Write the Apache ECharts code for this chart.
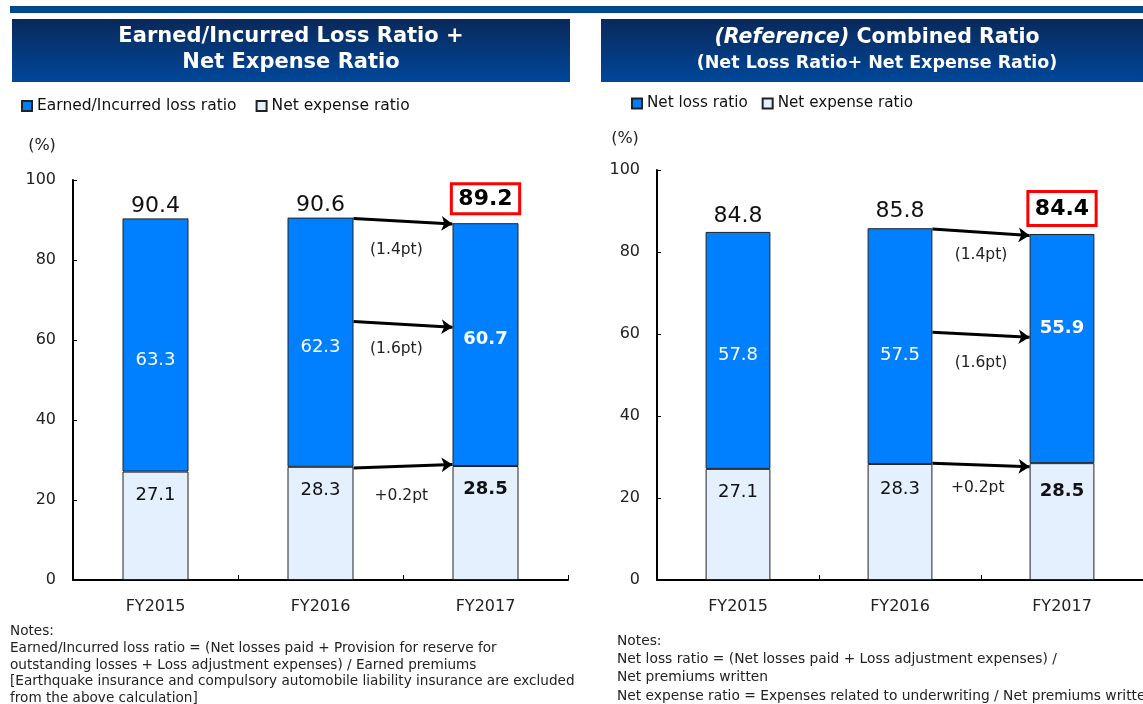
<!DOCTYPE html>
<html><head><meta charset="utf-8">
<script src="https://cdn.jsdelivr.net/npm/echarts@6/dist/echarts.min.js"></script>
<style>html,body{margin:0;padding:0;background:#fff}#c{width:1143px;height:704px}</style>
</head><body><div id="c"></div>
<script>
// ---------- data ----------
const categories = ['FY2015', 'FY2016', 'FY2017'];
const leftLossName = 'Earned/Incurred loss ratio';
const rightLossName = 'Net loss ratio';
const expenseName = 'Net expense ratio';
const leftExpense = [27.1, 28.3, 28.5];
const leftLoss = [63.3, 62.3, 60.7];
const leftTotal = [90.4, 90.6, 89.2];
const rightExpense = [27.1, 28.3, 28.5];
const rightLoss = [57.8, 57.5, 55.9];
const rightTotal = [84.8, 85.8, 84.4];
// change arrows between FY2016 and FY2017: [start value, end value]
const leftArrowValues = [[90.4, 89.0], [64.6, 63.2], [28.0, 28.9]];
const rightArrowValues = [[85.6, 84.0], [60.4, 59.2], [28.5, 27.6]];
// change labels: [text, category position, value]
const leftChangeLabels = [['(1.4pt)', 1.46, 82.5], ['(1.6pt)', 1.46, 57.8], ['+0.2pt', 1.49, 21.0]];
const rightChangeLabels = [['(1.4pt)', 1.50, 79.3], ['(1.6pt)', 1.50, 52.9], ['+0.2pt', 1.48, 22.4]];

// ---------- styles ----------
const FONT = 'DejaVu Sans';
const LOSS_COLOR = '#0080FF';
const EXP_COLOR = '#E5F0FF';
const BAR_FRAC = 0.4;
const HALF = BAR_FRAC / 2;
const highlightIndex = 2;
const leftLossOffsets = [15, 5, -5];
const rightLossOffsets = [5, 9, -20];
const leftExpDist = [15, 15, 14];
const rightExpDist = [14, 16, 19];

function lossItems(vals, offs) {
  return vals.map((v, i) => ({
    value: v,
    label: { offset: [0, offs[i]], fontWeight: i === highlightIndex ? 'bold' : 'normal' }
  }));
}
function expItems(vals, dists) {
  return vals.map((v, i) => ({
    value: v,
    label: { distance: dists[i], fontWeight: i === highlightIndex ? 'bold' : 'normal' }
  }));
}
function totalItems(vals, dist, boxDist) {
  return vals.map((v, i) => ({
    value: v,
    label: i === highlightIndex
      ? { formatter: '{box|' + v.toFixed(1) + '}', distance: boxDist }
      : { formatter: v.toFixed(1), distance: dist }
  }));
}
function arrowItems(vals) {
  return vals.map(a => ({ coords: [[1 + HALF, a[0]], [2 - HALF, a[1]]] }));
}
function changeItems(list) {
  return list.map(c => ({ name: c[0], value: [c[1], c[2]] }));
}

function catAxis(grid) {
  return {
    type: 'category', gridIndex: grid, data: categories,
    axisLine: { onZero: false, lineStyle: { color: '#000', width: 2 } },
    axisTick: { show: true, inside: true, length: 5, lineStyle: { color: '#000', width: 1 } },
    axisLabel: { fontFamily: FONT, fontSize: 16, color: '#222', margin: 19 }
  };
}
function hiddenX(grid) {
  return { type: 'value', gridIndex: grid, min: -0.5, max: 2.5, show: false };
}
function valAxis(grid) {
  return {
    type: 'value', gridIndex: grid, min: 0, max: 100, interval: 20,
    axisLine: { show: true, onZero: false, lineStyle: { color: '#000', width: 2 } },
    axisTick: { show: true, inside: true, length: 4, lineStyle: { color: '#000' } },
    splitLine: { show: false },
    axisLabel: { fontFamily: FONT, fontSize: 16, color: '#222', margin: 17 }
  };
}

function panelSeries(p) {
  const base = p.grid * 2;
  return [
    {
      name: expenseName, type: 'bar', stack: 's' + p.grid, xAxisIndex: base, yAxisIndex: p.grid,
      barWidth: (BAR_FRAC * 100) + '%',
      itemStyle: { color: EXP_COLOR, borderColor: '#222', borderWidth: 1 },
      label: { show: true, position: 'insideTop', fontFamily: FONT, fontSize: 18, color: '#111' },
      data: expItems(p.exp, p.expDist)
    },
    {
      name: p.lossName, type: 'bar', stack: 's' + p.grid, xAxisIndex: base, yAxisIndex: p.grid,
      barWidth: (BAR_FRAC * 100) + '%',
      itemStyle: { color: LOSS_COLOR, borderColor: '#222', borderWidth: 1 },
      label: { show: true, position: 'inside', fontFamily: FONT, fontSize: 18, color: '#fff' },
      data: lossItems(p.loss, p.lossOff)
    },
    {
      name: 'total' + p.grid, type: 'scatter', xAxisIndex: base, yAxisIndex: p.grid,
      symbolSize: 1, itemStyle: { color: 'rgba(0,0,0,0)', opacity: 1 }, silent: true, z: 5,
      label: {
        show: true, position: 'top', fontFamily: FONT, fontSize: 22, color: '#111',
        rich: { box: { fontFamily: FONT, fontSize: 22, fontWeight: 'bold', color: '#000',
          borderColor: '#FF0000', borderWidth: 3, padding: p.boxPad } }
      },
      data: totalItems(p.total, p.totalDist, p.boxDist)
    },
    {
      name: 'arrows' + p.grid, type: 'lines', coordinateSystem: 'cartesian2d',
      xAxisIndex: base + 1, yAxisIndex: p.grid, silent: true,
      symbol: ['none', 'arrow'], symbolSize: 11,
      lineStyle: { color: '#000', width: 3, opacity: 1, curveness: 0 },
      data: arrowItems(p.arrows)
    },
    {
      name: 'changes' + p.grid, type: 'scatter', xAxisIndex: base + 1, yAxisIndex: p.grid,
      symbolSize: 1, itemStyle: { color: 'rgba(0,0,0,0)', opacity: 1 }, silent: true,
      label: { show: true, position: 'inside', formatter: '{b}', fontFamily: FONT, fontSize: 15.5, color: '#222' },
      data: changeItems(p.changes)
    }
  ];
}

const grad = { type: 'linear', x: 0, y: 0, x2: 0, y2: 1,
  colorStops: [{ offset: 0, color: '#0A295A' }, { offset: 1, color: '#00479A' }] };

const option = {
  animation: false,
  backgroundColor: '#fff',
  grid: [
    { left: 73, top: 180, width: 495, bottom: 124 },
    { left: 657, top: 170, width: 493, bottom: 124 }
  ],
  xAxis: [catAxis(0), hiddenX(0), catAxis(1), hiddenX(1)],
  yAxis: [valAxis(0), valAxis(1)],
  legend: [
    { left: 16, top: 93, itemWidth: 10, itemHeight: 10, itemGap: 19, icon: 'rect',
      textStyle: { fontFamily: FONT, fontSize: 15.5, color: '#111' },
      data: [leftLossName, expenseName] },
    { left: 626, top: 91, itemWidth: 10, itemHeight: 10, itemGap: 14, icon: 'rect',
      textStyle: { fontFamily: FONT, fontSize: 15.2, color: '#111' },
      data: [rightLossName, expenseName] }
  ],
  graphic: [
    { type: 'rect', shape: { x: 10, y: 6, width: 1140, height: 7 }, style: { fill: '#00488E' }, silent: true },
    { type: 'rect', shape: { x: 12, y: 19, width: 558, height: 63 }, style: { fill: grad }, silent: true },
    { type: 'rect', shape: { x: 601, y: 19, width: 560, height: 63 }, style: { fill: grad }, silent: true },
    { type: 'text', x: 291, y: 37, style: { text: 'Earned/Incurred Loss Ratio +', fill: '#fff',
      font: 'bold 21px "DejaVu Sans"', align: 'center', verticalAlign: 'middle' } },
    { type: 'text', x: 291, y: 63, style: { text: 'Net Expense Ratio', fill: '#fff',
      font: 'bold 21px "DejaVu Sans"', align: 'center', verticalAlign: 'middle' } },
    { type: 'text', x: 877, y: 38, style: { text: '{i|(Reference)} Combined Ratio', fill: '#fff',
      font: 'bold 20.5px "DejaVu Sans"', align: 'center', verticalAlign: 'middle',
      rich: { i: { fontStyle: 'italic', fontWeight: 'bold', fontSize: 20.5, fontFamily: FONT, fill: '#fff' } } } },
    { type: 'text', x: 877, y: 63, style: { text: '(Net Loss Ratio+ Net Expense Ratio)', fill: '#fff',
      font: 'bold 17.5px "DejaVu Sans"', align: 'center', verticalAlign: 'middle' } },
    { type: 'text', x: 42, y: 146, style: { text: '(%)', fill: '#222', font: '16px "DejaVu Sans"',
      align: 'center', verticalAlign: 'middle' } },
    { type: 'text', x: 625, y: 139, style: { text: '(%)', fill: '#222', font: '16px "DejaVu Sans"',
      align: 'center', verticalAlign: 'middle' } },
    { type: 'text', x: 10, y: 623, style: {
      text: 'Notes:\nEarned/Incurred loss ratio = (Net losses paid + Provision for reserve for\noutstanding losses + Loss adjustment expenses) / Earned premiums\n[Earthquake insurance and compulsory automobile liability insurance are excluded\nfrom the above calculation]',
      fill: '#222', font: '13.6px "DejaVu Sans"', lineHeight: 16.8 } },
    { type: 'text', x: 617, y: 632, style: {
      text: 'Notes:\nNet loss ratio = (Net losses paid + Loss adjustment expenses) /\nNet premiums written\nNet expense ratio = Expenses related to underwriting / Net premiums written',
      fill: '#222', font: '13.8px "DejaVu Sans"', lineHeight: 18.3 } }
  ],
  series: [].concat(
    panelSeries({ grid: 0, lossName: leftLossName, exp: leftExpense, loss: leftLoss, total: leftTotal,
      expDist: leftExpDist, lossOff: leftLossOffsets, totalDist: 1, boxDist: 9, boxPad: [5, 7, 3, 7],
      arrows: leftArrowValues, changes: leftChangeLabels }),
    panelSeries({ grid: 1, lossName: rightLossName, exp: rightExpense, loss: rightLoss, total: rightTotal,
      expDist: rightExpDist, lossOff: rightLossOffsets, totalDist: 5, boxDist: 8, boxPad: [7, 7, 5, 7],
      arrows: rightArrowValues, changes: rightChangeLabels })
  )
};
const chart = echarts.init(document.getElementById('c'));
chart.setOption(option);
</script>
</body></html>
